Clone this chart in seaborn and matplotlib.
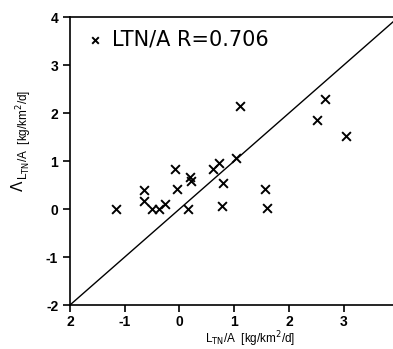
import matplotlib
matplotlib.use("Agg")
import matplotlib.pyplot as plt
import seaborn as sns
import pandas as pd

# observed L_TN/A (x) vs estimated L_TN/A (y)
obs = [-1.16, -0.64, -0.64, -0.50, -0.37, -0.27, -0.09, -0.05, 0.19, 0.21, 0.15,
       0.61, 0.72, 0.79, 0.77, 1.04, 1.10, 2.65, 2.52, 3.04, 1.57, 1.59]
est = [0.00, 0.39, 0.16, 0.00, 0.00, 0.11, 0.84, 0.42, 0.67, 0.58, 0.00,
       0.84, 0.97, 0.55, 0.06, 1.07, 2.14, 2.29, 1.86, 1.53, 0.42, 0.02]
line_x = [-2, 4]
line_y = [-2, 4]
xticks = [-2, -1, 0, 1, 2, 3]
xticklabels = ["2", "-1", "0", "1", "2", "3"]
yticks = [-2, -1, 0, 1, 2, 3, 4]
yticklabels = ["-2", "-1", "0", "1", "2", "3", "4"]
legend_label = "LTN/A R=0.706"

sns.set_style("ticks")
plt.rcParams['font.family'] = ['Liberation Sans', 'DejaVu Sans']
plt.rcParams['text.color'] = 'black'
plt.rcParams['axes.labelcolor'] = 'black'

df = pd.DataFrame({"obs": obs, "est": est})

fig = plt.figure(figsize=(3.93, 3.49), dpi=100)
ax = fig.add_axes([0.178, 0.126, 0.822, 0.825])

sns.lineplot(x=line_x, y=line_y, ax=ax, color="black", linewidth=1.0)
sns.scatterplot(data=df, x="obs", y="est", ax=ax, marker="x", color="black",
                s=40, linewidth=1.4, label=legend_label, zorder=3)

ax.set_xlim(-2, 3.9)
ax.set_ylim(-2, 4)
ax.set_xticks(xticks)
ax.set_xticklabels(xticklabels, fontsize=10, fontweight="bold")
ax.set_yticks(yticks)
ax.set_yticklabels(yticklabels, fontsize=10, fontweight="bold")
ax.tick_params(direction="out", length=5, width=1.2, colors="black")
ax.tick_params(axis="x", pad=2)

for s in ["left", "bottom", "top"]:
    ax.spines[s].set_linewidth(1.2)
    ax.spines[s].set_color("black")
ax.spines["right"].set_visible(False)

ax.set_xlabel(r"L$_{\mathrm{TN}}$/A  [kg/km$^2$/d]", fontsize=8.5)
ax.xaxis.set_label_coords(0.557, -0.083)
ax.set_ylabel(r"L$_{\mathrm{TN}}$/A  [kg/km$^2$/d]", fontsize=8.5)
ax.yaxis.set_label_coords(-0.11, 0.59)
fig.text(18 / 393, 1 - 186 / 349, "Λ", rotation=90, fontsize=11,
         ha="center", va="center", family="DejaVu Sans")

leg = ax.legend(loc="upper left", frameon=False, bbox_to_anchor=(0.008, 1.0),
                handletextpad=0.3, borderaxespad=0.2, handlelength=1.0,
                markerscale=0.75, prop={"family": "DejaVu Sans", "size": 15})
for t in leg.get_texts():
    t.set_color("black")

fig.savefig("out.png", dpi=100)
